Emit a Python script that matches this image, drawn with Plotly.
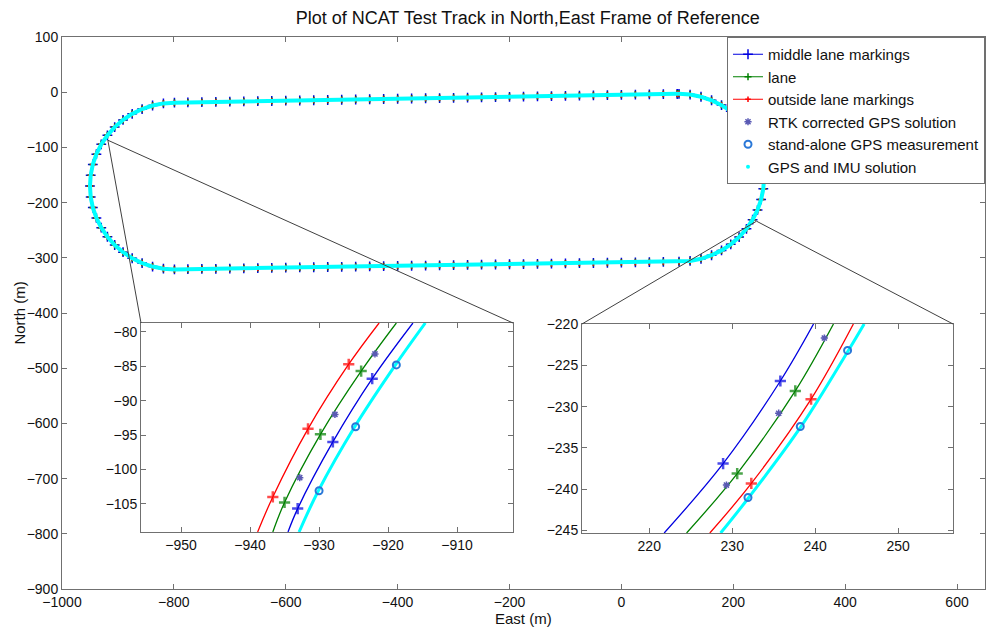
import plotly.graph_objects as go

# ---------------- data ----------------
# overview: lane centre line around the track (East, North in m)
track_east = [100, 75, 50, 25, 0, -25, -50, -75, -100, -125, -150, -175, -200, -225, -250,
              -275, -300, -325, -350, -375, -400, -425, -450, -475, -500, -525, -550, -575,
              -600, -625, -650, -675, -700, -725, -750, -775,
              -799, -818.7, -838.1, -856.8, -874.5, -890.9, -905.8, -918.8, -929.8, -938.5,
              -944.9, -948.7, -950, -948.7, -944.9, -938.5, -929.8, -918.8, -905.8, -890.9,
              -874.5, -856.8, -838.1, -818.7, -799,
              -775, -750, -725, -700, -675, -650, -625, -600, -575, -550, -525, -500, -475,
              -450, -425, -400, -375, -350, -325, -300, -275, -250, -225, -200, -175, -150,
              -125, -100, -75, -50, -25, 0, 25, 50, 75,
              103, 122.8, 142.3, 161.2, 179, 195.5, 210.5, 223.6, 234.6, 243.4, 249.8, 253.7,
              255, 253.7, 249.8, 243.4, 234.6, 223.6, 210.5, 195.5, 179, 161.2, 142.3, 122.8,
              103, 100]
track_north = [-3.0, -3.4, -3.9, -4.3, -4.8, -5.2, -5.7, -6.1, -6.6, -7.0, -7.4, -7.9, -8.3,
               -8.8, -9.2, -9.7, -10.1, -10.6, -11.0, -11.4, -11.9, -12.3, -12.8, -13.2, -13.7,
               -14.1, -14.6, -15.0, -15.4, -15.9, -16.3, -16.8, -17.2, -17.7, -18.1, -18.6,
               -19, -20.3, -24.1, -30.5, -39.2, -50.2, -63.2, -78.1, -94.5, -112.2, -130.9,
               -150.3, -170, -189.7, -209.1, -227.8, -245.5, -261.9, -276.8, -289.8, -300.8,
               -309.5, -315.9, -319.7, -321,
               -320.6, -320.2, -319.9, -319.5, -319.1, -318.7, -318.3, -317.9, -317.5, -317.1,
               -316.7, -316.4, -316.0, -315.6, -315.2, -314.8, -314.4, -314.0, -313.6, -313.3,
               -312.9, -312.5, -312.1, -311.7, -311.3, -310.9, -310.5, -310.1, -309.7, -309.4,
               -309.0, -308.6, -308.2, -307.8, -307.4,
               -307, -305.7, -301.8, -295.4, -286.6, -275.6, -262.5, -247.5, -231, -213.2,
               -194.3, -174.8, -155, -135.2, -115.7, -96.8, -79, -62.5, -47.5, -34.4, -23.4,
               -14.6, -8.2, -4.3, -3, -3.0]

# inset 1 (west curve)
in1_middle_e = [-934.5, -933.1, -928.0, -922.3, -916.4]
in1_middle_n = [-109.1, -105.7, -96.0, -86.8, -78.7]
in1_lane_e = [-936.7, -935.0, -929.8, -923.9, -918.8]
in1_lane_n = [-109.1, -104.8, -94.9, -85.7, -78.7]
in1_outside_e = [-938.9, -936.7, -931.6, -925.7, -921.3]
in1_outside_n = [-109.1, -104.0, -94.1, -84.7, -78.7]
in1_rtk_e = [-932.8, -927.7, -921.9]
in1_rtk_n = [-101.2, -92.0, -83.2]
in1_gps_e = [-930.0, -924.7, -918.8]
in1_gps_n = [-103.1, -93.8, -84.8]
in1_imu_e = [-932.9, -930.1, -924.9, -919.0, -914.6]
in1_imu_n = [-109.1, -103.1, -93.9, -84.9, -78.7]

# inset 2 (east curve)
in2_middle_e = [221.8, 228.9, 235.8, 239.8]
in2_middle_n = [-245.3, -236.9, -226.9, -220.0]
in2_lane_e = [224.5, 230.6, 237.6, 242.2]
in2_lane_n = [-245.3, -238.1, -228.1, -220.0]
in2_outside_e = [227.3, 232.3, 239.5, 244.6]
in2_outside_n = [-245.3, -239.3, -229.1, -220.0]
in2_rtk_e = [229.3, 235.6, 241.1]
in2_rtk_n = [-239.5, -230.8, -221.7]
in2_gps_e = [231.9, 238.2, 243.9]
in2_gps_n = [-241.0, -232.4, -223.2]
in2_imu_e = [228.6, 232.0, 238.3, 244.0, 245.9]
in2_imu_n = [-245.3, -241.0, -232.4, -223.2, -220.0]

main_xticks = [-1000, -800, -600, -400, -200, 0, 200, 400, 600]
main_yticks = [100, 0, -100, -200, -300, -400, -500, -600, -700, -800, -900]
in1_xticks = [-950, -940, -930, -920, -910]
in1_yticks = [-80, -85, -90, -95, -100, -105]
in2_xticks = [220, 230, 240, 250]
in2_yticks = [-220, -225, -230, -235, -240, -245]

# ---------------- styling ----------------
BLUE = "#0000e0"
GREEN = "#008000"
RED = "#ff0000"
CYAN = "#00ffff"
RTKC = "#5a5ab4"
GPSC = "#2a78d8"
FONT = "Liberation Sans, Arial, sans-serif"
AX = "#707070"

fig = go.Figure()

# overview traces
fig.add_trace(go.Scatter(x=track_east, y=track_north, mode="lines+markers", name="middle lane markings",
                         line=dict(color=BLUE, width=1),
                         marker=dict(symbol="cross-thin", size=7, color=BLUE, line=dict(color=BLUE, width=1.5)),
                         legendrank=1))
fig.add_trace(go.Scatter(x=track_east, y=track_north, mode="lines+markers", name="lane",
                         line=dict(color=GREEN, width=1),
                         marker=dict(symbol="cross-thin", size=5, color=GREEN, line=dict(color=GREEN, width=1.5)),
                         legendrank=2))
fig.add_trace(go.Scatter(x=track_east, y=track_north, mode="lines+markers", name="outside lane markings",
                         line=dict(color=RED, width=1),
                         marker=dict(symbol="cross-thin", size=4, color=RED, line=dict(color=RED, width=1.5)),
                         legendrank=3))
fig.add_trace(go.Scatter(x=track_east, y=track_north, mode="lines", name="GPS and IMU solution",
                         line=dict(color=CYAN, width=4), showlegend=False, legendgroup="imu"))


def edge_sizes(n, s):
    return [0] + [s] * (n - 2) + [0]


def add_inset(xa, ya, me, mn, le, ln, oe, on, re_, rn, ge, gn, ie, inn, first):
    fig.add_trace(go.Scatter(x=me, y=mn, xaxis=xa, yaxis=ya, mode="lines+markers", showlegend=False,
                             line=dict(color=BLUE, width=1.3, shape="spline"),
                             marker=dict(symbol="cross-thin", size=edge_sizes(len(me), 8), color=BLUE,
                                         line=dict(color=BLUE, width=2.5))))
    fig.add_trace(go.Scatter(x=le, y=ln, xaxis=xa, yaxis=ya, mode="lines+markers", showlegend=False,
                             line=dict(color=GREEN, width=1.3, shape="spline"),
                             marker=dict(symbol="cross-thin", size=edge_sizes(len(le), 8), color=GREEN,
                                         line=dict(color=GREEN, width=2.5))))
    fig.add_trace(go.Scatter(x=oe, y=on, xaxis=xa, yaxis=ya, mode="lines+markers", showlegend=False,
                             line=dict(color=RED, width=1.3, shape="spline"),
                             marker=dict(symbol="cross-thin", size=edge_sizes(len(oe), 8), color=RED,
                                         line=dict(color=RED, width=2.5))))
    fig.add_trace(go.Scatter(x=re_, y=rn, xaxis=xa, yaxis=ya, mode="markers",
                             name="RTK corrected GPS solution", showlegend=first, legendrank=4,
                             marker=dict(symbol="asterisk-open", size=6, color=RTKC,
                                         line=dict(color=RTKC, width=1.5))))
    fig.add_trace(go.Scatter(x=ie, y=inn, xaxis=xa, yaxis=ya, mode="lines", showlegend=False,
                             line=dict(color=CYAN, width=3, shape="spline")))
    fig.add_trace(go.Scatter(x=ge, y=gn, xaxis=xa, yaxis=ya, mode="markers",
                             name="stand-alone GPS measurement", showlegend=first, legendrank=5,
                             marker=dict(symbol="circle-open", size=7, color=GPSC,
                                         line=dict(color=GPSC, width=2))))


add_inset("x2", "y2", in1_middle_e, in1_middle_n, in1_lane_e, in1_lane_n, in1_outside_e, in1_outside_n,
          in1_rtk_e, in1_rtk_n, in1_gps_e, in1_gps_n, in1_imu_e, in1_imu_n, True)
add_inset("x3", "y3", in2_middle_e, in2_middle_n, in2_lane_e, in2_lane_n, in2_outside_e, in2_outside_n,
          in2_rtk_e, in2_rtk_n, in2_gps_e, in2_gps_n, in2_imu_e, in2_imu_n, False)

# legend entry for the GPS/IMU dots
fig.add_trace(go.Scatter(x=[None], y=[None], mode="markers", name="GPS and IMU solution",
                         legendgroup="imu", legendrank=6,
                         marker=dict(symbol="circle", size=4, color=CYAN)))

# ---------------- layout ----------------
XR = [-1000, 650]
YR = [-900, 100]
in1_dom_x = [0.0856, 0.4886]
in1_dom_y = [0.1033, 0.4819]
in2_dom_x = [0.5634, 0.9653]
in2_dom_y = [0.1014, 0.4801]


def axis_common(**kw):
    d = dict(showline=True, linecolor=AX, linewidth=1, mirror="ticks", ticks="inside", ticklen=5,
             tickcolor=AX, showgrid=False, zeroline=False,
             tickfont=dict(family=FONT, size=14, color="#111"))
    d.update(kw)
    return d


fig.update_layout(
    width=992, height=628,
    margin=dict(l=62, r=7, t=37, b=39),
    paper_bgcolor="white", plot_bgcolor="white",
    font=dict(family=FONT, color="#111"),
    title=dict(text="Plot of NCAT Test Track in North,East Frame of Reference",
               x=0.532, xanchor="center", y=0.972, yanchor="middle",
               font=dict(family=FONT, size=18, color="#111")),
    xaxis=axis_common(range=XR, domain=[0, 1], tickvals=main_xticks),
    yaxis=axis_common(range=YR, domain=[0, 1], tickvals=main_yticks),
    xaxis2=axis_common(range=[-955.8, -901.9], domain=in1_dom_x, anchor="y2", tickvals=in1_xticks),
    yaxis2=axis_common(range=[-109.1, -78.7], domain=in1_dom_y, anchor="x2", tickvals=in1_yticks),
    xaxis3=axis_common(range=[211.9, 256.6], domain=in2_dom_x, anchor="y3", tickvals=in2_xticks),
    yaxis3=axis_common(range=[-245.3, -220.0], domain=in2_dom_y, anchor="x3", tickvals=in2_yticks),
    legend=dict(x=1, y=1, xanchor="right", yanchor="top", bgcolor="white",
                bordercolor=AX, borderwidth=1, font=dict(family=FONT, size=15, color="#111"),
                tracegroupgap=0, itemwidth=30),
    showlegend=True,
    annotations=[
        dict(text="East (m)", xref="paper", yref="paper", x=0.5, y=-0.053, xanchor="center",
             yanchor="middle", showarrow=False, font=dict(family=FONT, size=15, color="#111")),
        dict(text="North (m)", xref="paper", yref="paper", x=-0.047, y=0.5, xanchor="center",
             yanchor="middle", textangle=-90, showarrow=False,
             font=dict(family=FONT, size=15, color="#111")),
    ],
)


def to_main(px, py):
    return XR[0] + px * (XR[1] - XR[0]), YR[0] + py * (YR[1] - YR[0])


# zoom connector lines
p1 = (-918, -87)
p2 = (241.6, -233.7)
for src, dx, dy in [(p1, in1_dom_x, in1_dom_y), (p2, in2_dom_x, in2_dom_y)]:
    for cx in dx:
        ex, ey = to_main(cx, dy[1])
        fig.add_shape(type="line", xref="x", yref="y", x0=src[0], y0=src[1], x1=ex, y1=ey,
                      line=dict(color="#404040", width=1))

fig.write_html("out.html", config={"displayModeBar": False},
               post_script="document.body.style.margin='0';")
